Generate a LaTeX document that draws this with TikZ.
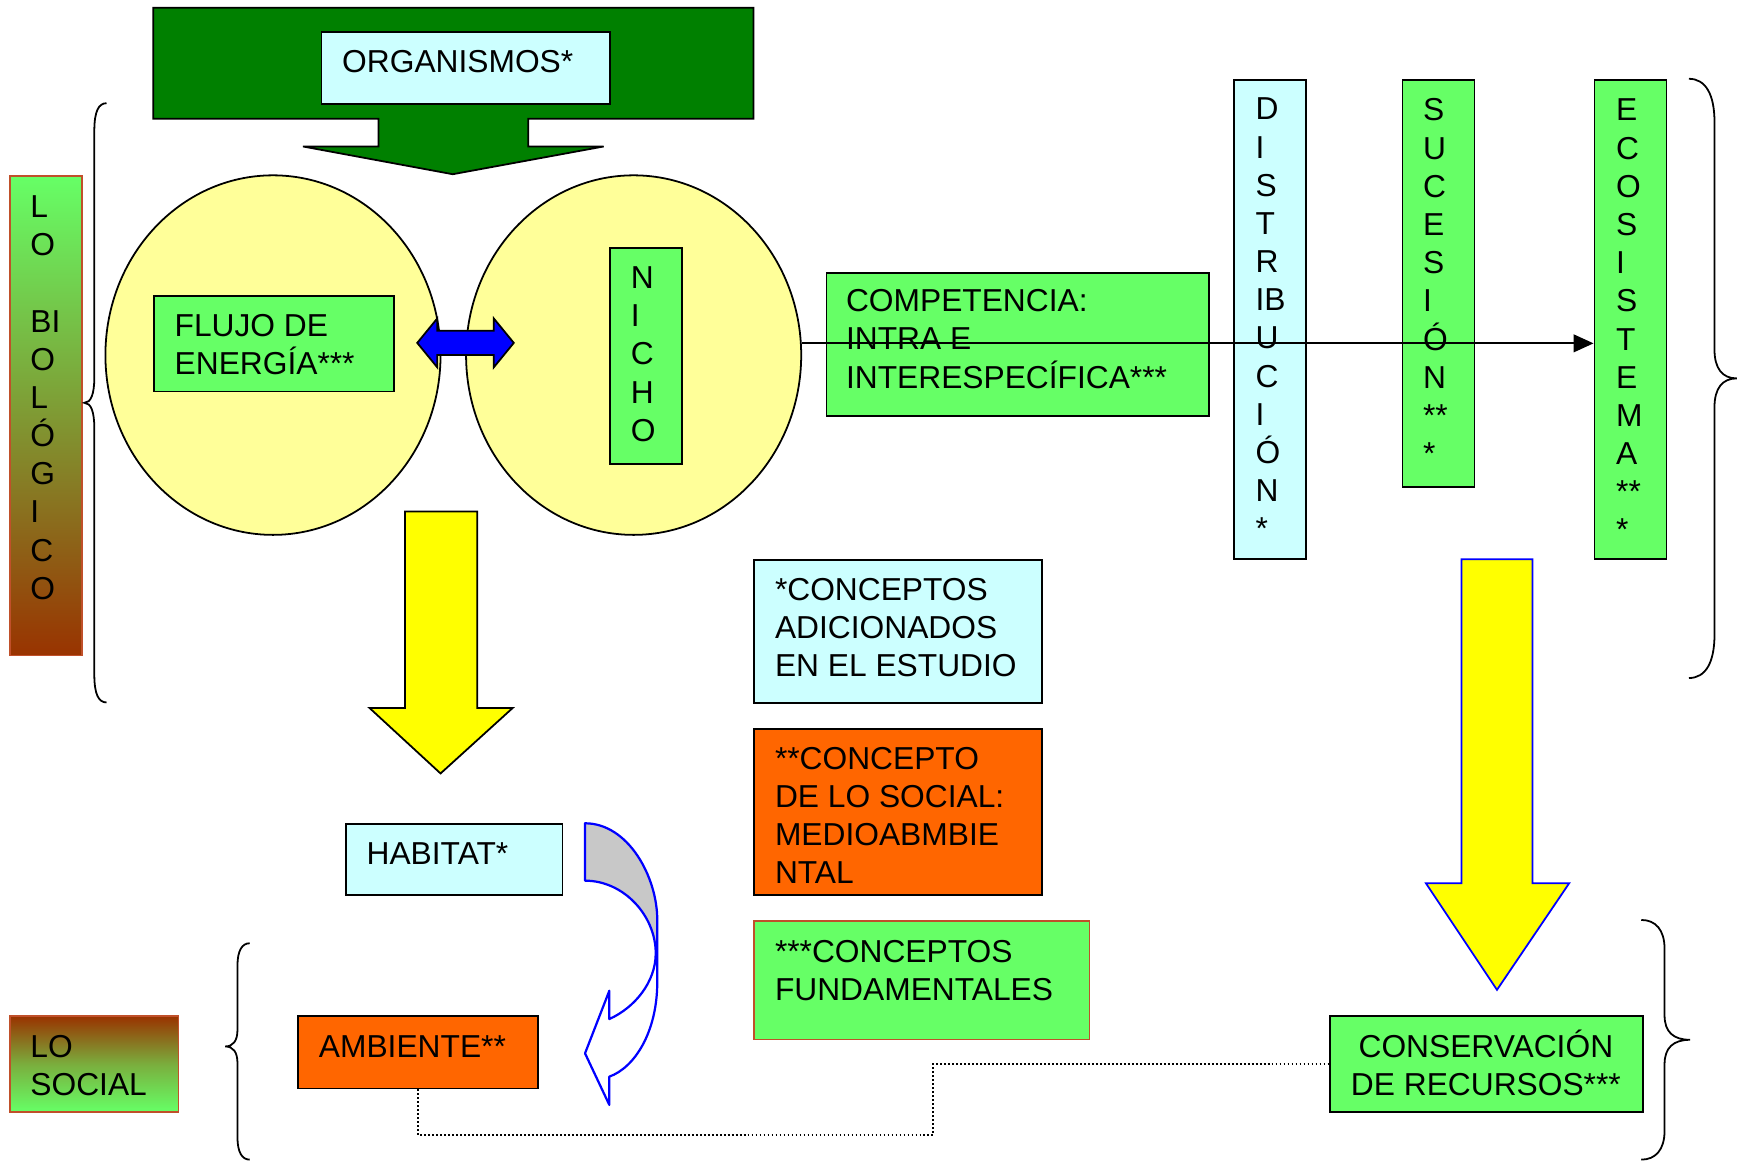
\documentclass[tikz,border=0pt]{standalone}
\usepackage{fontspec}
\setmainfont{Liberation Sans}
\usetikzlibrary{shapes.geometric,arrows.meta}
\definecolor{dgreen}{HTML}{008000}
\definecolor{lcyan}{HTML}{CCFFFF}
\definecolor{lgreen}{HTML}{66FF66}
\definecolor{pyellow}{HTML}{FFFF99}
\definecolor{orng}{HTML}{FF6600}
\definecolor{brwn}{HTML}{993300}
\definecolor{yell}{HTML}{FFFF00}
\definecolor{bblue}{HTML}{0000FF}
\definecolor{grayf}{HTML}{C8C8C8}
\definecolor{redb}{HTML}{C0502A}
\newcommand\rectnode[6]{\node[#6, anchor=north west, minimum width={(#4-#2)*0.5pt}, minimum height={(#5-#3)*0.5pt}, inner sep=0pt] (#1) at (#2,#3) {};}
\begin{document}
\begin{tikzpicture}[x=0.5pt,y=-0.5pt,
  every node/.style={font=\fontsize{14.3}{17.2}\selectfont},
  box/.style={draw=black, line width=0.8pt, rectangle},
  txt/.style={anchor=base west, align=left, inner sep=0pt},
  brace/.style={draw=black, line width=0.8pt},
  blockarrow/.style={line width=0.8pt, line join=miter}]
\fill[white] (0,0) rectangle (1568,1048);
\useasboundingbox (0,0) rectangle (1568,1048);

% big green arrow with ORGANISMOS
\draw[blockarrow, fill=dgreen, draw=black] (138,7) -- (679,7) -- (679,107) -- (476,107) -- (476,132) -- (544,132) -- (408,157) -- (273,132) -- (341,132) -- (341,107) -- (138,107) -- cycle;
\rectnode{org}{289}{28}{549}{93}{box, fill=lcyan}
\node[txt] (orgT) at (308,65) {ORGANISMOS*};

% ellipses
\node[ellipse, draw=black, line width=0.8pt, fill=pyellow, minimum width={302*0.5pt}, minimum height={324*0.5pt}, inner sep=0pt] (ellL) at (246,320) {};
\node[ellipse, draw=black, line width=0.8pt, fill=pyellow, minimum width={302*0.5pt}, minimum height={324*0.5pt}, inner sep=0pt] (ellR) at (571,320) {};

\rectnode{flujo}{138}{266}{354}{352}{box, fill=lgreen}
\node[txt] (flujoT) at (157,337.4) {FLUJO DE\\ENERGÍA***};

\rectnode{nicho}{549}{223}{614}{417}{box, fill=lgreen}
\node[txt] (nichoT) at (568,397.6) {N\\I\\C\\H\\O};

% blue double arrow
\draw[blockarrow, fill=bblue, draw=black] (376,309) -- (394,287) -- (394,298) -- (445,298) -- (445,287) -- (463,309) -- (445,331) -- (445,320) -- (394,320) -- (394,331) -- cycle;

% LO BIOLOGICO
\rectnode{bio}{8}{158}{73}{590}{draw=redb, line width=0.8pt, top color=lgreen, bottom color=brwn, middle color=lgreen!50!brwn}
\node[txt] (bioT) at (27,540) {L\\O\\\strut\\BI\\O\\L\\Ó\\G\\I\\C\\O};
\draw[brace] (96,93) .. controls (89,93) and (85,100) .. (85,118) -- (85,340) .. controls (85,355) and (82,363) .. (76,363) .. controls (82,363) and (85,371) .. (85,386) -- (85,608) .. controls (85,626) and (89,633) .. (96,633);

% competencia and columns
\rectnode{comp}{744}{245}{1089}{374}{box, fill=lgreen}
\node[txt] (compT) at (762,349.8) {COMPETENCIA:\\INTRA E\\INTERESPECÍFICA***};
\rectnode{dist}{1111}{71}{1176}{503}{box, fill=lcyan}
\node[txt] (distT) at (1131,486.4) {D\\I\\S\\T\\R\\IB\\U\\C\\I\\Ó\\N\\*};
\rectnode{suc}{1263}{71}{1328}{438}{box, fill=lgreen}
\node[txt] (sucT) at (1282,418.6) {S\\U\\C\\E\\S\\I\\Ó\\N\\**\\*};
\rectnode{eco}{1436}{71}{1501}{503}{box, fill=lgreen}
\node[txt] (ecoT) at (1456,487.4) {E\\C\\O\\S\\I\\S\\T\\E\\M\\A\\**\\*};
\draw[line width=0.8pt, -{Triangle[length=9pt,width=8pt]}] (ellR.4.17) -- (ellR.4.17 -| eco.west);
\draw[brace] (1522,71) .. controls (1537,71) and (1545,85) .. (1545,110) -- (1545,315) .. controls (1545,332) and (1552,341) .. (1565,341) .. controls (1552,341) and (1545,350) .. (1545,367) -- (1545,572) .. controls (1545,597) and (1537,611) .. (1522,611);

% yellow arrows
\draw[blockarrow, fill=yell, draw=black] (365,461) -- (430,461) -- (430,638) -- (462,638) -- (397,697) -- (333,638) -- (365,638) -- cycle;
\draw[blockarrow, fill=yell, draw=bblue] (1317,504) -- (1381,504) -- (1381,796) -- (1414,796) -- (1349,892) -- (1285,796) -- (1317,796) -- cycle;

% legend
\rectnode{leg1}{679}{504}{938}{633}{box, fill=lcyan}
\node[txt] (leg1T) at (698,609.8) {*CONCEPTOS\\ADICIONADOS\\EN EL ESTUDIO};
\rectnode{leg2}{679}{656}{938}{806}{box, fill=orng}
\node[txt] (leg2T) at (698,796.2) {**CONCEPTO\\DE LO SOCIAL:\\MEDIOABMBIE\\NTAL};
\rectnode{leg3}{679}{829}{981}{936}{draw=redb, line width=0.8pt, fill=lgreen}
\node[txt] (leg3T) at (698,901.4) {***CONCEPTOS\\FUNDAMENTALES};

% habitat, curved arrow
\rectnode{hab}{311}{742}{506}{806}{box, fill=lcyan}
\node[txt] (habT) at (330,779) {HABITAT*};
\fill[grayf] (527.2,741.9) .. controls (566,741.9) and (592.3,790) .. (592.3,829.1) -- (592.3,859.1) -- (590.9,859.1) .. controls (590.9,825) and (562,793.6) .. (527.2,793.6) -- cycle;
\draw[bblue, line width=1pt, line join=round] (527.2,741.9) .. controls (566,741.9) and (592.3,790) .. (592.3,829.1) -- (592.3,884.7) .. controls (592.3,930) and (572,962) .. (549.1,970.2) -- (549.1,995.7) -- (527.2,949.2) -- (549.1,892.8) -- (549.1,918.3) .. controls (572,908) and (590.9,885) .. (590.9,859.1) .. controls (590.9,825) and (562,793.6) .. (527.2,793.6) -- cycle;

% social
\rectnode{amb}{268}{915}{484}{980}{box, fill=orng}
\node[txt] (ambT) at (287,953) {AMBIENTE**};
\rectnode{soc}{8}{915}{160}{1001}{draw=redb, line width=0.8pt, top color=brwn, bottom color=lgreen, middle color=lgreen!60!brwn}
\node[txt] (socT) at (27,987.4) {LO\\SOCIAL};
\draw[brace] (225,850) .. controls (218,850) and (214,857) .. (214,870) -- (214,928) .. controls (214,938) and (210,943) .. (203,943) .. controls (210,943) and (214,948) .. (214,958) -- (214,1025) .. controls (214,1038) and (218,1045) .. (225,1045);

\rectnode{cons}{1198}{915}{1480}{1001}{box, fill=lgreen}
\node[anchor=base, align=center, inner sep=0pt] (consT) at (1339,987.4) {CONSERVACIÓN\\DE RECURSOS***};
\draw[brace] (1479,829) .. controls (1492,829) and (1500,838) .. (1500,855) -- (1500,915) .. controls (1500,930) and (1508,937) .. (1523,937) .. controls (1508,937) and (1500,944) .. (1500,959) -- (1500,1019) .. controls (1500,1036) and (1492,1045) .. (1479,1045);

\coordinate (d1) at (841,1023);
\draw[densely dotted, line width=0.8pt] (amb.south) |- (d1) |- (cons.west);
\end{tikzpicture}
\end{document}
